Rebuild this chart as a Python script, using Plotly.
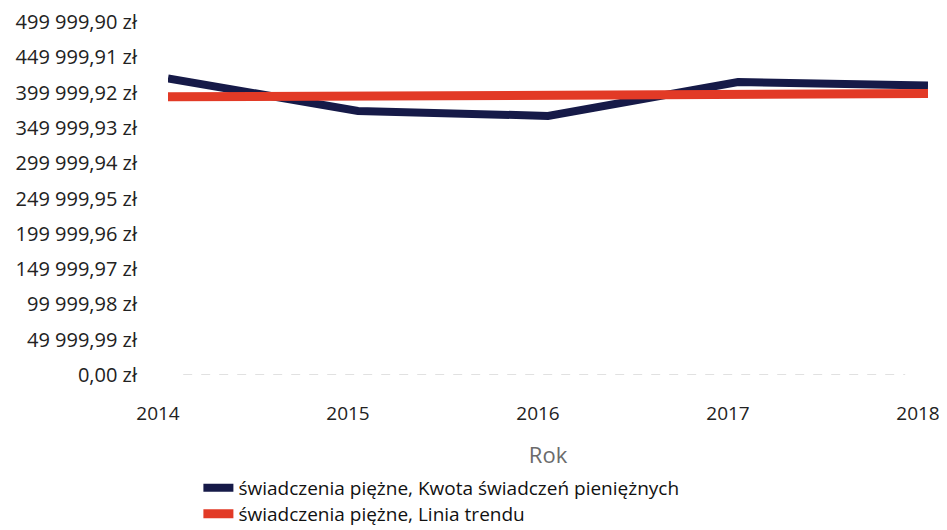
import plotly.graph_objects as go

years = [2014, 2015, 2016, 2017, 2018]
kwota = [420000, 374000, 367000, 415000, 410000]
trend = [394000, 395200, 396300, 397500, 398600]

y_tick_vals = [0, 49999.99, 99999.98, 149999.97, 199999.96, 249999.95,
               299999.94, 349999.93, 399999.92, 449999.91, 499999.90]
y_tick_text = ["0,00 zł", "49 999,99 zł", "99 999,98 zł", "149 999,97 zł",
               "199 999,96 zł", "249 999,95 zł", "299 999,94 zł", "349 999,93 zł",
               "399 999,92 zł", "449 999,91 zł", "499 999,90 zł"]
x_tick_text = ["2014", "2015", "2016", "2017", "2018"]

name_kwota = "świadczenia piężne, Kwota świadczeń pieniężnych"
name_trend = "świadczenia piężne, Linia trendu"

fig = go.Figure()
fig.add_trace(go.Scatter(x=years, y=kwota, mode="lines", name=name_kwota,
                         line=dict(color="#161a48", width=8), legend="legend"))
fig.add_trace(go.Scatter(x=years, y=trend, mode="lines", name=name_trend,
                         line=dict(color="#e23a26", width=9), legend="legend2"))

fig.add_shape(type="line", xref="paper", yref="y", x0=0.02, x1=0.97, y0=0, y1=0,
              line=dict(color="#d8d8d8", width=1.5, dash="dash"))

leg_common = dict(orientation="v", xref="paper", yref="container",
                  xanchor="left", yanchor="middle",
                  font=dict(size=19, color="#111"), bgcolor="rgba(0,0,0,0)")

fig.update_layout(
    width=939, height=522,
    margin=dict(l=160, r=19, t=14, b=155, autoexpand=False),
    paper_bgcolor="white", plot_bgcolor="white",
    font=dict(family="Open Sans", color="#222"),
    showlegend=True,
    legend=dict(x=0.040, y=0.0805, **leg_common),
    legend2=dict(x=0.040, y=0.0307, **leg_common),
    xaxis=dict(range=[2014, 2018], tickvals=years, ticktext=x_tick_text,
               automargin=False,
               showgrid=False, zeroline=False, showline=False,
               ticks="outside", ticklen=21, tickcolor="rgba(0,0,0,0)",
               ticklabelshift=-10, ticklabeloverflow="allow",
               tickfont=dict(size=19, color="#222"),
               title=dict(text="Rok", font=dict(size=22, color="#6b6b6b"), standoff=22)),
    yaxis=dict(range=[0, 499999.90], tickvals=y_tick_vals, ticktext=y_tick_text,
               automargin=False,
               showgrid=False, zeroline=False, showline=False,
               ticks="outside", ticklen=26, tickcolor="rgba(0,0,0,0)",
               tickfont=dict(size=20, color="#222")),
)

fig.write_html("out.html")
